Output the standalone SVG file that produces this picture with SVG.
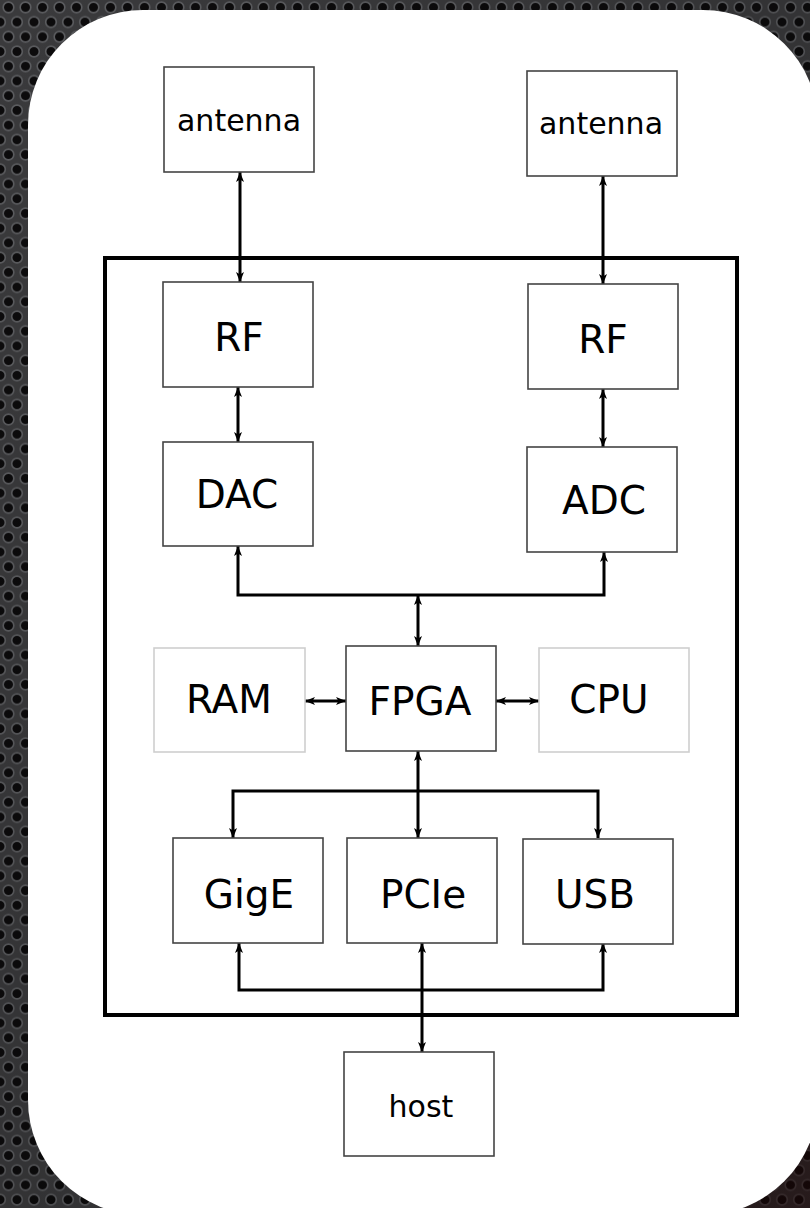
<svg xmlns="http://www.w3.org/2000/svg" width="810" height="1208" viewBox="0 0 810 1208">
<defs>
<pattern id="holes" patternUnits="userSpaceOnUse" width="17" height="29.44">
<rect width="17" height="29.44" fill="#3a3a3c"/>
<g fill="#0c0b0c" stroke="#5c5d60" stroke-width="1.6">
<circle cx="8.5" cy="7.36" r="5.3"/>
<circle cx="0" cy="22.08" r="5.3"/>
<circle cx="17" cy="22.08" r="5.3"/>
</g>
</pattern>
<linearGradient id="shade" x1="0" y1="0" x2="1" y2="1">
<stop offset="0" stop-color="#000" stop-opacity="0"/>
<stop offset="0.6" stop-color="#000" stop-opacity="0.15"/>
<stop offset="1" stop-color="#1a0505" stop-opacity="0.6"/>
</linearGradient>
<marker id="ah" viewBox="0 0 10 8" markerUnits="userSpaceOnUse" markerWidth="10" markerHeight="8" refX="10" refY="4" orient="auto-start-reverse">
<path d="M0,0 L10,4 L0,8 L2.5,4 z" fill="#000"/>
</marker>
<style>
.box{fill:#fff;stroke:#444;stroke-width:1.6}
.lbox{fill:#fff;stroke:#cfcfcf;stroke-width:1.6}
.big{font-family:"DejaVu Sans",Verdana,sans-serif;font-size:39px;fill:#000;text-anchor:middle}
.sm{font-family:"DejaVu Sans",Verdana,sans-serif;font-size:30px;fill:#000;text-anchor:middle}
.c{fill:none;stroke:#000;stroke-width:3}
</style>
</defs>
<rect width="810" height="1208" fill="url(#holes)"/>
<rect width="810" height="1208" fill="url(#shade)"/>
<rect x="28" y="10" width="790" height="1205" rx="115" ry="115" fill="#fff"/>
<rect id="frame" x="105" y="258" width="632" height="757" fill="none" stroke="#000" stroke-width="4"/>

<g id="connectors">
<line class="c" x1="240" y1="172" x2="240" y2="282" marker-start="url(#ah)" marker-end="url(#ah)"/>
<line class="c" x1="603" y1="176" x2="603" y2="284" marker-start="url(#ah)" marker-end="url(#ah)"/>
<line class="c" x1="238" y1="387" x2="238" y2="442" marker-start="url(#ah)" marker-end="url(#ah)"/>
<line class="c" x1="603" y1="389" x2="603" y2="447" marker-start="url(#ah)" marker-end="url(#ah)"/>
<path class="c" d="M238,546 V595 H604 V552" marker-start="url(#ah)" marker-end="url(#ah)"/>
<line class="c" x1="418" y1="595" x2="418" y2="646" marker-start="url(#ah)" marker-end="url(#ah)"/>
<line class="c" x1="305" y1="701" x2="346" y2="701" marker-start="url(#ah)" marker-end="url(#ah)"/>
<line class="c" x1="496" y1="701" x2="539" y2="701" marker-start="url(#ah)" marker-end="url(#ah)"/>
<line class="c" x1="418" y1="791" x2="418" y2="751" marker-end="url(#ah)"/>
<path class="c" d="M233,838 V791 H598 V838" marker-start="url(#ah)" marker-end="url(#ah)"/>
<line class="c" x1="418" y1="791" x2="418" y2="838" marker-end="url(#ah)"/>
<path class="c" d="M239,943 V990 H603 V943" marker-start="url(#ah)" marker-end="url(#ah)"/>
<line class="c" x1="422" y1="943" x2="422" y2="1052" marker-start="url(#ah)" marker-end="url(#ah)"/>
</g>

<g id="antenna1"><rect class="box" x="164" y="67" width="150" height="105"/><text class="sm" x="239" y="131">antenna</text></g>
<g id="antenna2"><rect class="box" x="527" y="71" width="150" height="105"/><text class="sm" x="601" y="134">antenna</text></g>
<g id="rf1"><rect class="box" x="163" y="282" width="150" height="105"/><text class="big" x="239" y="351">RF</text></g>
<g id="rf2"><rect class="box" x="528" y="284" width="150" height="105"/><text class="big" x="603" y="353">RF</text></g>
<g id="dac"><rect class="box" x="163" y="442" width="150" height="104"/><text class="big" x="237" y="508">DAC</text></g>
<g id="adc"><rect class="box" x="527" y="447" width="150" height="105"/><text class="big" x="604" y="514">ADC</text></g>
<g id="ram"><rect class="lbox" x="154" y="648" width="151" height="104"/><text class="big" x="229" y="713">RAM</text></g>
<g id="fpga"><rect class="box" x="346" y="646" width="150" height="105"/><text class="big" x="420" y="715">FPGA</text></g>
<g id="cpu"><rect class="lbox" x="539" y="648" width="150" height="104"/><text class="big" x="609" y="713">CPU</text></g>
<g id="gige"><rect class="box" x="173" y="838" width="150" height="105"/><text class="big" x="249" y="908">GigE</text></g>
<g id="pcie"><rect class="box" x="347" y="838" width="150" height="105"/><text class="big" x="423" y="908">PCIe</text></g>
<g id="usb"><rect class="box" x="523" y="839" width="150" height="105"/><text class="big" x="595" y="908">USB</text></g>
<g id="host"><rect class="box" x="344" y="1052" width="150" height="104"/><text class="sm" x="421" y="1117">host</text></g>
</svg>
